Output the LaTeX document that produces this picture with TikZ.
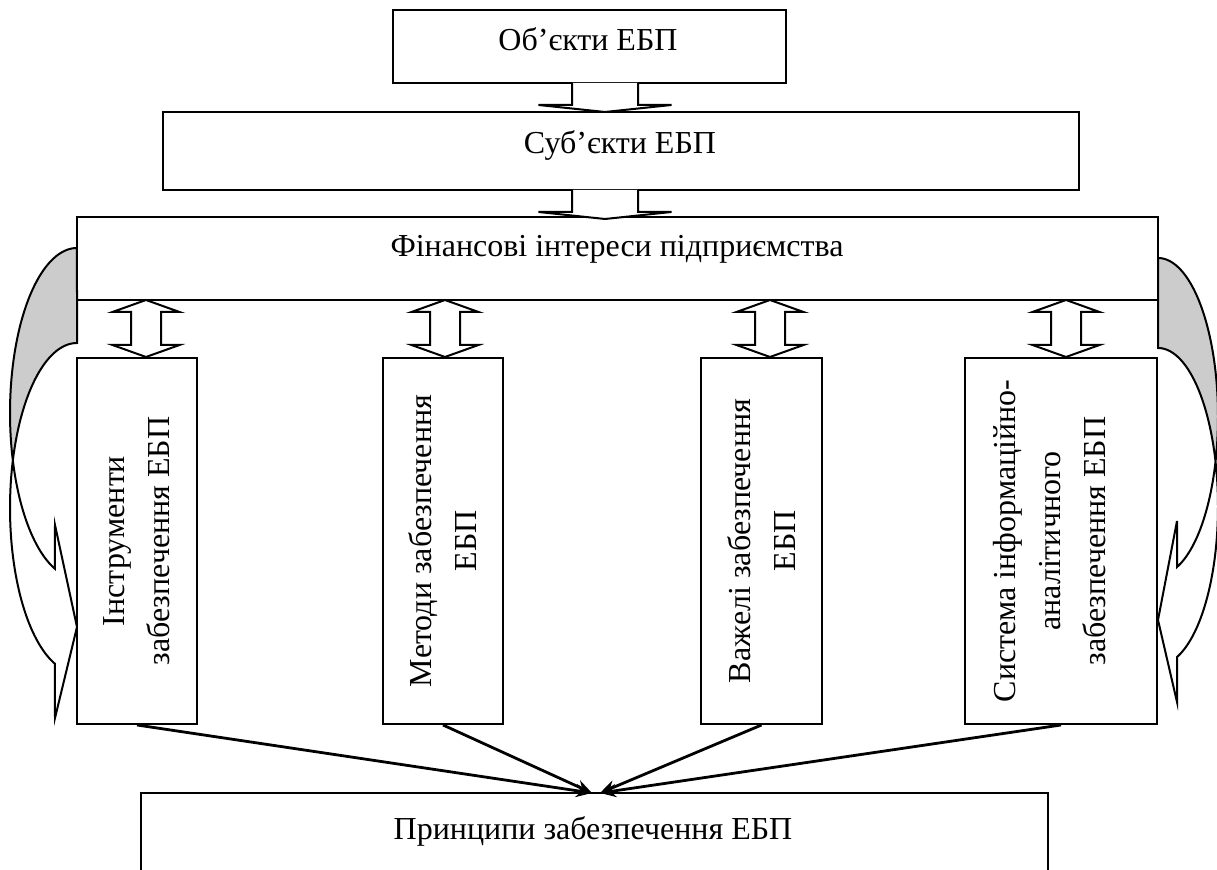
\documentclass[tikz,border=0pt]{standalone}
\usepackage{fontspec}
\setmainfont{Liberation Serif}
\usetikzlibrary{arrows.meta}
\begin{document}
\begin{tikzpicture}[x=0.5pt,y=-0.5pt,
  box/.style={draw, line width=1pt, rectangle, inner sep=0pt},
  txt/.style={font=\fontsize{16}{22.5}\selectfont, inner sep=0pt},
  vtxt/.style={txt, rotate=90, align=center},
  blockar/.style={draw, line width=1pt, fill=white, line join=miter},
  curvar/.style={draw, line width=1pt, line join=miter},
  backside/.style={fill=black!20},
  conn/.style={line width=1.4pt, -{Stealth[length=8pt,width=6.5pt]}},
  dblarr/.pic={\draw[blockar] (0,0) -- (33.5,12) -- (15,12) -- (15,45) -- (33.5,45) -- (0,57) -- (-33.5,45) -- (-15,45) -- (-15,12) -- (-33.5,12) -- cycle;},
  downarr/.pic={\draw[blockar] (-33,0) -- (-33,22) -- (-66.5,22) -- (0,29) -- (66.5,22) -- (33,22) -- (33,0);}
]
\useasboundingbox (0,0) rectangle (1217,870);
\clip (0,0) rectangle (1217,870);
\fill[white] (0,0) rectangle (1217,870);

% curved arrows (left and right)
\fill[backside] plot[domain=90:-16.7, samples=50] ({77-67*cos(\x)},{413-165*sin(\x)})
  -- plot[domain=16.7:90, samples=50] ({77-67*cos(\x)},{508-165*sin(\x)}) -- cycle;
\draw[curvar] plot[domain=90:-70.8, samples=80] ({77-67*cos(\x)},{508-165*sin(\x)})
  -- (55,718) -- (77,627) -- (55,525)
  -- plot[domain=-70.8:90, samples=80] ({77-67*cos(\x)},{413-165*sin(\x)}) -- cycle;

\fill[backside] plot[domain=90:-16.5, samples=50] ({1158+60*cos(\x)},{416.6-158.6*sin(\x)})
  -- plot[domain=16.5:90, samples=50] ({1158+60*cos(\x)},{506.6-158.6*sin(\x)}) -- cycle;
\draw[curvar] plot[domain=90:-71.5, samples=80] ({1158+60*cos(\x)},{506.6-158.6*sin(\x)})
  -- (1177,702) -- (1158,620) -- (1177,521)
  -- plot[domain=-71.5:90, samples=80] ({1158+60*cos(\x)},{416.6-158.6*sin(\x)}) -- cycle;

% boxes
\node[box, minimum width=196.5pt, minimum height=36.5pt] (obj) at (589.5,46.5) {};
\node[txt, anchor=base] (objt) at (588,51) {Об’єкти ЕБП};

\node[box, minimum width=458pt, minimum height=39pt] (subj) at (621,151) {};
\node[txt, anchor=base] (subjt) at (620,154) {Суб’єкти ЕБП};

\node[box, minimum width=540.5pt, minimum height=41.5pt] (fin) at (617.5,258.5) {};
\node[txt, anchor=base] (fint) at (617,257) {Фінансові інтереси підприємства};

\node[box, minimum width=60pt, minimum height=183pt] (b1) at (137,541) {};
\node[box, minimum width=60pt, minimum height=183pt] (b2) at (443,541) {};
\node[box, minimum width=60.5pt, minimum height=183pt] (b3) at (761.5,541) {};
\node[box, minimum width=96pt, minimum height=183pt] (b4) at (1061,541) {};

\node[vtxt] (b1t) at (137,541) {Інструменти\\забезпечення ЕБП};
\node[vtxt] (b2t) at (443,541) {Методи забезпечення\\ЕБП};
\node[vtxt] (b3t) at (762,541) {Важелі забезпечення\\ЕБП};
\node[vtxt] (b4t) at (1050,541) {Система інформаційно-\\аналітичного\\забезпечення ЕБП};

\node[box, minimum width=453.5pt, minimum height=60pt] (bot) at (594.5,853) {};
\node[txt, anchor=base] (bott) at (593,840) {Принципи забезпечення ЕБП};

% block arrows
\pic at (605,83) {downarr};
\pic at (605,190) {downarr};
\pic at (146,300) {dblarr};
\pic at (445,300) {dblarr};
\pic at (770,300) {dblarr};
\pic at (1066,300) {dblarr};

% connectors
\coordinate (pL) at (592,793);
\coordinate (pR) at (600,793);
\draw[conn] (b1.south) -- (pL);
\draw[conn] (b2.south) -- (pL);
\draw[conn] (b3.south) -- (pR);
\draw[conn] (b4.south) -- (pR);
\end{tikzpicture}
\end{document}
